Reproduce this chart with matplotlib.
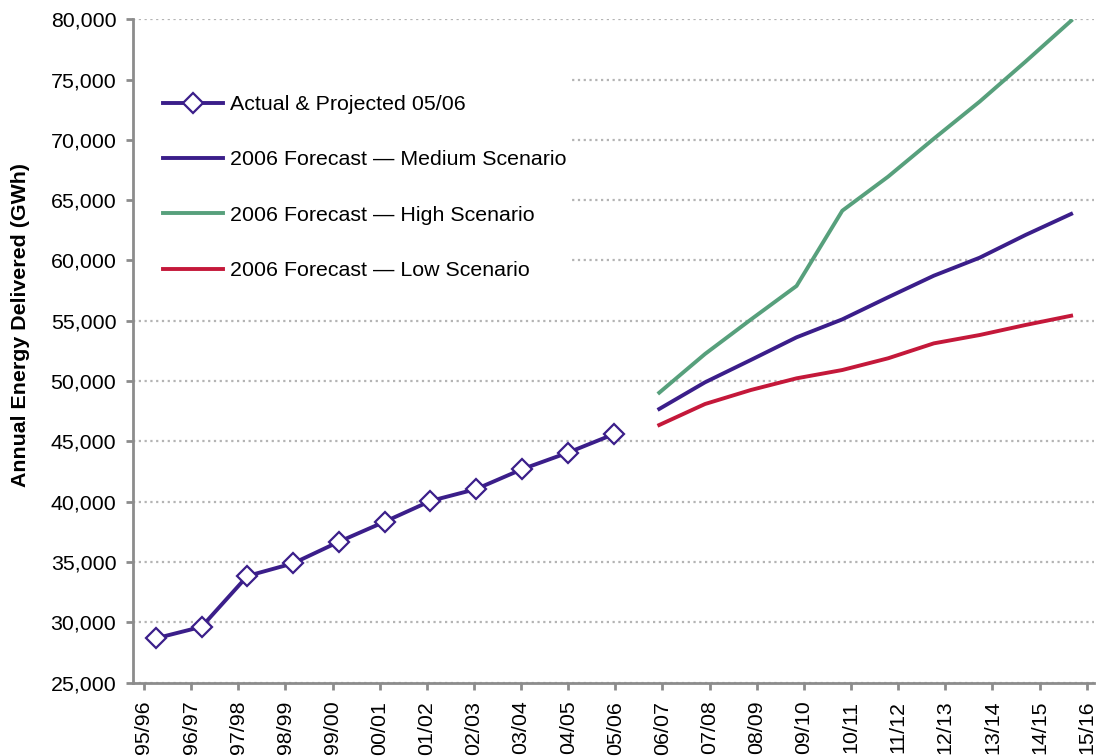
import numpy as np
import matplotlib
matplotlib.use("Agg")
import matplotlib.pyplot as plt
from matplotlib.patches import Rectangle
from matplotlib.ticker import FuncFormatter, MultipleLocator

plt.rcParams['font.family'] = ['Liberation Sans', 'DejaVu Sans']

# Financial years shown on the category axis
years = ["95/96", "96/97", "97/98", "98/99", "99/00", "00/01", "01/02",
         "02/03", "03/04", "04/05", "05/06", "06/07", "07/08", "08/09",
         "09/10", "10/11", "11/12", "12/13", "13/14", "14/15", "15/16"]

# Annual energy delivered (GWh)
actual = [28670, 29630, 33840, 34890, 36680, 38340, 40060, 41050,
          42690, 44060, 45590]
medium = [47690, 49900, 51750, 53630, 55120, 56950, 58740, 60230,
          62110, 63860]
high = [49040, 52250, 55100, 57890, 64130, 66950, 70100, 73170,
        76480, 79880]
low = [46360, 48100, 49260, 50230, 50920, 51890, 53130, 53820,
       54650, 55420]

PURPLE = "#3b1e8a"
GREEN = "#57a07c"
RED = "#c4183a"
GRID = "#b4b4b4"
SPINE = "#8c8c8c"
FS = 15.4

W, H = 1096, 756
fig = plt.figure(figsize=(W / 100, H / 100), dpi=100)
ax = fig.add_axes([133 / W, 1 - 682.6 / H, 961 / W, 663.3 / H])

x = np.arange(len(years))
n_act = len(actual)
x_act = x[:n_act]
x_fc = x[n_act:]

ax.plot(x_act, actual, color=PURPLE, lw=2.8, marker="D", ms=10,
        mfc="white", mec=PURPLE, mew=1.6, label="Actual & Projected 05/06",
        zorder=5)
ax.plot(x_fc, medium, color=PURPLE, lw=2.8,
        label="2006 Forecast \u2014 Medium Scenario", zorder=4)
ax.plot(x_fc, high, color=GREEN, lw=2.8,
        label="2006 Forecast \u2014 High Scenario", zorder=4)
ax.plot(x_fc, low, color=RED, lw=2.8,
        label="2006 Forecast \u2014 Low Scenario", zorder=4)

ax.set_xlim(-0.5, len(years) - 0.5)
ax.set_ylim(25000, 80000)
ax.yaxis.set_major_locator(MultipleLocator(5000))
ax.yaxis.set_major_formatter(FuncFormatter(lambda v, p: f"{int(v):,}"))

# category labels sit on slightly wider spacing than the plotted points
tick_pos = -0.26 + 1.03 * np.arange(len(years))
ax.set_xticks(tick_pos)
ax.set_xticklabels(years, rotation=90, va="top", ha="center")

ax.grid(axis="y", color=GRID, linestyle=(0, (1, 1.6)), lw=1.6, zorder=0)
ax.set_axisbelow(True)

for s in ("top", "right"):
    ax.spines[s].set_visible(False)
for s in ("left", "bottom"):
    ax.spines[s].set_color(SPINE)
    ax.spines[s].set_linewidth(2)

ax.tick_params(axis="both", colors=SPINE, length=5, width=2,
               labelcolor="black", labelsize=FS)
ax.tick_params(axis="y", pad=7)
ax.tick_params(axis="x", pad=8)

ax.set_ylabel("Annual Energy Delivered (GWh)", fontsize=FS,
              fontweight="bold")
ax.yaxis.set_label_coords(-0.107, 0.539)

# white panel behind the legend, hiding the gridlines there
ax.add_patch(Rectangle((0.0, 0.558), 0.457, 0.434, transform=ax.transAxes,
                       facecolor="white", edgecolor="none", zorder=1))

leg = ax.legend(loc="upper left", bbox_to_anchor=(163 / W, 1 - 95 / H),
                bbox_transform=fig.transFigure, fontsize=FS, frameon=False,
                handlelength=2.8, handletextpad=0.33, labelspacing=1.70,
                borderpad=0.0, borderaxespad=0.0)
leg.set_zorder(6)

fig.savefig("out.png", dpi=100)
